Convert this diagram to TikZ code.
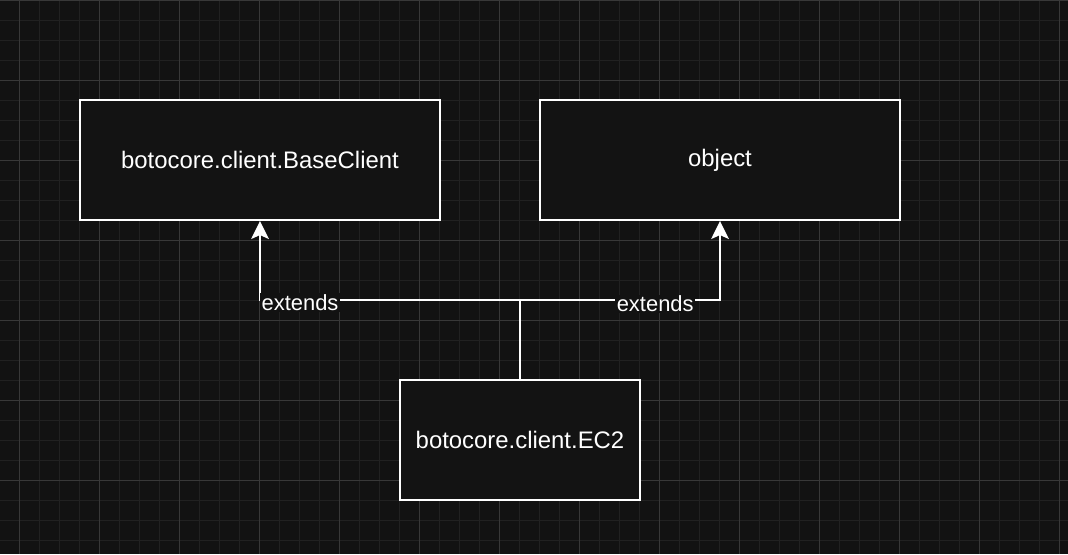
\documentclass[tikz,border=0pt]{standalone}
\usepackage{fontspec}
\setmainfont{Liberation Sans}
\usetikzlibrary{arrows.meta,positioning}
\definecolor{canvas}{HTML}{121212}
\definecolor{boxfill}{HTML}{131313}
\definecolor{gridminor}{HTML}{212121}
\definecolor{gridmajor}{HTML}{383838}
\tikzset{
    class box/.style={
        draw=white,line width=1.4pt,
        fill=boxfill,
        minimum width=9cm,minimum height=3cm,
        text=white,
        font=\fontsize{17}{20}\selectfont
    },
    >={Stealth[length=12.8pt,width=12.5pt,inset=2.8pt]},
    extends/.style={white,line width=1.4pt},
    extends label/.style={fill=canvas,text=white,inner sep=1pt,
        font=\fontsize{15.6}{18}\selectfont},
}

\begin{document}
\begin{tikzpicture}[x=0.25mm,y=-0.25mm]
		\fill[canvas] (0,0) rectangle (1068,554);
		\useasboundingbox (0,0) rectangle (1068,554);
		% grid
		\foreach \x in {-1,19,...,1079}
		\draw[gridminor,line width=0.6pt] (\x,0) -- (\x,554);
		\foreach \y in {0,20,...,560}
		\draw[gridminor,line width=0.6pt] (0,\y) -- (1068,\y);
		\foreach \x in {19,99,...,1079}
		\draw[gridmajor,line width=0.6pt] (\x,0) -- (\x,554);
		\foreach \y in {0,80,...,560}
		\draw[gridmajor,line width=0.6pt] (0,\y) -- (1068,\y);

		% classes
		\node[class box] (base) at (260,160) {botocore.client.BaseClient};
		\node[class box] (obj) at (720,160) {object};
		\node[class box,minimum width=6cm] (ec2) at (520,440) {botocore.client.EC2};

		% inheritance
		\coordinate (split) at (520,300);
		\draw[extends] (ec2.north) -- (split);
		\draw[extends,->] (split) -| node[extends label,pos=0.423,yshift=-0.6mm] {extends} (base.south);
		\draw[extends,->] (split) -| node[extends label,pos=0.338,yshift=-1mm] {extends} (obj.south);
	\end{tikzpicture}
\end{document}
